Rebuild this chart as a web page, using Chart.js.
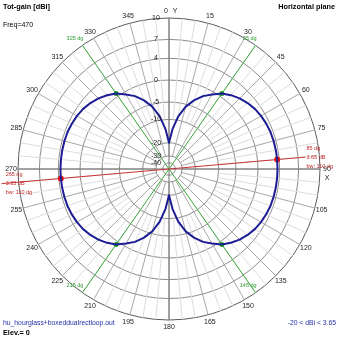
<!DOCTYPE html>
<html>
<head>
<meta charset="utf-8">
<script src="https://cdn.jsdelivr.net/npm/chart.js@4.4.0/dist/chart.umd.min.js"></script>
<style>
  body { margin: 0; background: #fff; }
  #wrap { position: relative; width: 339px; height: 339px; font-family: "Liberation Sans", Arial, sans-serif; }
  #plot { position: absolute; left: 0; top: 0; }
  .txt { position: absolute; font-size: 7px; line-height: 9px; white-space: nowrap; color: #000; }
  .bold { font-weight: bold; font-size: 7.3px; }
  .blue { color: #2233aa; font-size: 6.8px; }
</style>
</head>
<body>
<div id="wrap">
  <canvas id="plot" width="339" height="339"></canvas>
  <div class="txt bold" style="left:3px; top:2px;">Tot-gain [dBi]</div>
  <div class="txt" style="left:3px; top:20px;">Freq=470</div>
  <div class="txt bold" style="right:4px; top:2px;">Horizontal plane</div>
  <div class="txt blue" style="left:3px; top:318px;">hu_hourglass+boxeddualrectloop.out</div>
  <div class="txt bold" style="left:3px; top:328px;">Elev.= 0</div>
  <div class="txt blue" style="right:3px; top:318px;">-20 &lt; dBi &lt; 3.65</div>
</div>
<script>
// azimuth (compass degrees, 0 = Y axis, clockwise) of every sample
const azimuthDeg = [
  0, 5, 10, 15, 20, 25, 30, 35, 40, 45, 50, 55, 60, 65, 70, 75, 80, 85,
  90, 95, 100, 105, 110, 115, 120, 125, 130, 135, 140, 145, 150, 155, 160, 165, 170, 175,
  180, 185, 190, 195, 200, 205, 210, 215, 220, 225, 230, 235, 240, 245, 250, 255, 260, 265,
  270, 275, 280, 285, 290, 295, 300, 305, 310, 315, 320, 325, 330, 335, 340, 345, 350, 355
];

// total gain in dBi at each azimuth above
const gainDbi = [
  -20, -13.5, -8.8, -5.6, -3.5, -1.8, -0.6, 0.65, 1.45, 2.1, 2.6, 3.0, 3.25, 3.42, 3.55, 3.6, 3.63, 3.65,
  3.64, 3.63, 3.62, 3.59, 3.54, 3.41, 3.24, 2.99, 2.59, 2.09, 1.44, 0.65, -0.6, -1.8, -3.5, -5.6, -8.8, -13.5,
  -20, -13.5, -8.8, -5.6, -3.5, -1.8, -0.6, 0.65, 1.45, 2.1, 2.6, 3.0, 3.25, 3.42, 3.55, 3.6, 3.63, 3.65,
  3.64, 3.63, 3.62, 3.59, 3.54, 3.41, 3.24, 2.99, 2.59, 2.09, 1.44, 0.65, -0.6, -1.8, -3.5, -5.6, -8.8, -13.5
];

const ringDbi = [-40, -30, -20, -10, -5, 0, 4, 7, 10];
const angleTicks = [0, 15, 30, 45, 60, 75, 90, 105, 120, 135, 150, 165, 180, 195, 210, 225, 240, 255, 270, 285, 300, 315, 330, 345];

const maxGainAz = [85, 265];
const maxGainDbi = 3.65;
const beamwidthDeg = 110;
const halfPowerAz = [35, 145, 215, 325];
const halfPowerDbi = 0.65;

// ARRL style log grid: 10 dBi on the rim
const TOP_DB = 10;
function toRadial(db) {
  const d = TOP_DB - db;
  return Math.exp(-(0.0502 * d + 0.00027 * d * d));
}

function markerSeries(azList, db) {
  return azimuthDeg.map(a => azList.includes(a) ? toRadial(db) : null);
}

const FONT = '"Liberation Sans", Arial, sans-serif';

const polarDecor = {
  id: 'polarDecor',
  beforeDatasetsDraw(chart) {
    const s = chart.scales.r;
    const c = chart.ctx;
    const rim = s.drawingArea;
    const idx = az => azimuthDeg.indexOf(az);
    c.save();
    c.lineWidth = 1;

    // spokes: every 5 deg from the -10 ring, every 15 deg from the -30 ring
    azimuthDeg.forEach((az, i) => {
      const major = az % 15 === 0;
      const from = s.getPointPosition(i, s.getDistanceFromCenterForValue(toRadial(major ? -30 : -10)));
      const to = s.getPointPosition(i, rim);
      c.strokeStyle = major ? '#a8a8a8' : '#dcdcdc';
      c.beginPath();
      c.moveTo(from.x, from.y);
      c.lineTo(to.x, to.y);
      c.stroke();
    });

    // X / Y axes
    c.strokeStyle = '#6e6e6e';
    [[0, 180], [90, 270]].forEach(([a, b]) => {
      const p = s.getPointPosition(idx(a), rim);
      const q = s.getPointPosition(idx(b), rim);
      c.beginPath();
      c.moveTo(p.x, p.y);
      c.lineTo(q.x, q.y);
      c.stroke();
    });

    // half power directions
    c.strokeStyle = '#3aa83a';
    [[halfPowerAz[0], halfPowerAz[2]], [halfPowerAz[3], halfPowerAz[1]]].forEach(([a, b]) => {
      const p = s.getPointPosition(idx(a), rim);
      const q = s.getPointPosition(idx(b), rim);
      c.beginPath();
      c.moveTo(p.x, p.y);
      c.lineTo(q.x, q.y);
      c.stroke();
    });

    // max gain direction
    c.strokeStyle = '#c83232';
    const r1 = s.getPointPosition(idx(maxGainAz[0]), rim - 14);
    const r2 = s.getPointPosition(idx(maxGainAz[1]), rim + 17);
    c.beginPath();
    c.moveTo(r1.x, r1.y);
    c.lineTo(r2.x, r2.y);
    c.stroke();
    c.restore();
  },
  afterDatasetsDraw(chart) {
    const s = chart.scales.r;
    const c = chart.ctx;
    const rim = s.drawingArea;
    const idx = az => azimuthDeg.indexOf(az);
    c.save();
    c.textBaseline = 'middle';

    // azimuth labels
    c.font = '7px ' + FONT;
    c.fillStyle = '#222';
    c.textAlign = 'center';
    angleTicks.forEach(a => {
      const p = s.getPointPosition(idx(a), rim + 7);
      c.fillText(String(a), a === 0 ? p.x - 3 : p.x, p.y);
    });
    c.fillText('Y', s.xCenter + 6, s.yCenter - rim - 7);
    c.fillText('X', s.xCenter + rim + 7, s.yCenter + 9);

    // dB ring labels along the Y axis
    ringDbi.forEach(db => {
      const y = s.yCenter - s.getDistanceFromCenterForValue(toRadial(db));
      c.fillText(String(db), s.xCenter - 13, y);
    });

    // half power labels
    c.font = '5.5px ' + FONT;
    c.fillStyle = '#2a9a2a';
    c.textAlign = 'right';
    halfPowerAz.forEach(a => {
      const p = s.getPointPosition(idx(a), rim);
      c.fillText(a + ' dg', p.x + 1, p.y - 7);
    });

    // max gain labels
    c.fillStyle = '#c02828';
    c.textAlign = 'left';
    const ends = [s.getPointPosition(idx(maxGainAz[0]), rim - 14), s.getPointPosition(idx(maxGainAz[1]), rim + 17)];
    maxGainAz.forEach((a, k) => {
      const e = ends[k];
      const x = e.x + (k === 0 ? 1 : 4);
      c.fillText(a + ' dg', x, e.y - 9);
      c.fillText(maxGainDbi + ' dB', x, e.y);
      c.fillText('bw: ' + beamwidthDeg + ' dg', x, e.y + 9);
    });
    c.restore();
  }
};

new Chart(document.getElementById('plot'), {
  type: 'radar',
  data: {
    labels: azimuthDeg,
    datasets: [
      {
        data: gainDbi.map(toRadial),
        borderColor: '#1c1c94',
        borderWidth: 2,
        pointRadius: 0,
        fill: false,
        tension: 0
      },
      {
        data: markerSeries(halfPowerAz, halfPowerDbi),
        showLine: false,
        pointRadius: 2.5,
        pointBorderWidth: 0,
        pointBackgroundColor: '#1f9a1f'
      },
      {
        data: markerSeries(maxGainAz, maxGainDbi),
        showLine: false,
        pointRadius: 3,
        pointBorderWidth: 0,
        pointBackgroundColor: '#e01414'
      }
    ]
  },
  options: {
    responsive: false,
    animation: false,
    devicePixelRatio: 1,
    layout: { padding: { left: 18, right: 19, top: 18, bottom: 19 } },
    plugins: { legend: { display: false }, tooltip: { enabled: false } },
    elements: { line: { borderJoinStyle: 'round' } },
    scales: {
      r: {
        min: 0,
        max: 1,
        startAngle: 0,
        ticks: { display: false },
        pointLabels: { display: false },
        angleLines: { display: false },
        grid: {
          circular: true,
          lineWidth: 1,
          color: ctx => ctx.index === ringDbi.length ? '#5a5a5a' : '#8c8c8c'
        },
        afterBuildTicks: scale => {
          scale.ticks = [0, ...ringDbi.map(toRadial)].map(v => ({ value: v }));
        }
      }
    }
  },
  plugins: [polarDecor]
});
</script>
</body>
</html>
